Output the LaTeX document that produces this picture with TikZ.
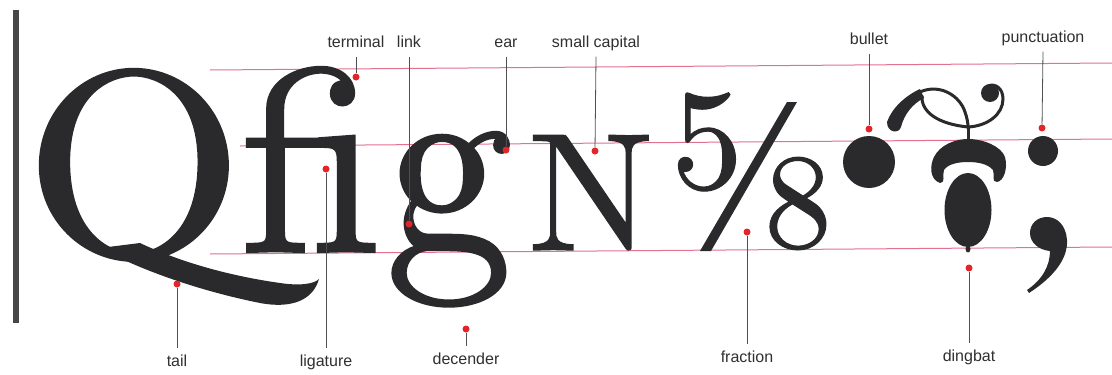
\documentclass[tikz,border=0pt]{standalone}
\usepackage{fontspec}
\setmainfont{Latin Modern Roman}
\newfontfamily\labelfont{Liberation Sans}
\newfontfamily\glyphfont{lmroman10-regular.otf}[FakeBold=0.8]
\definecolor{ink}{HTML}{2A2A2C}
\definecolor{guide}{HTML}{E2708F}
\definecolor{dotred}{HTML}{E3242B}
\definecolor{leadgray}{HTML}{505050}
\definecolor{labgray}{HTML}{303030}
\tikzset{
  guideline/.style={draw=guide, line width=1pt},
  leader/.style={draw=leadgray, line width=0.8pt},
  rdot/.style={circle, fill=dotred, minimum size=7pt, inner sep=0pt},
  lab/.style={font=\labelfont\fontsize{16}{18}\selectfont, text=labgray, anchor=base,
              text height=11.5pt, text depth=3.5pt, inner xsep=1pt, inner ysep=6pt},
  glyph/.style={text=ink, inner sep=0pt, anchor=base},
  blob/.style={circle, fill=ink, inner sep=0pt},
  thinstroke/.style={draw=ink, line width=3pt, line cap=round}
}
\begin{document}
\begin{tikzpicture}[x=1pt,y=-1pt]
\useasboundingbox (0,0) rectangle (1112,375);
\fill[white] (0,0) rectangle (1112,375);
% left bar
\fill[black!72] (13,10) rectangle (19,323);
% guide lines
\coordinate (a1) at (210,70);  \coordinate (a2) at (1112,63);
\coordinate (x1) at (240,146); \coordinate (x2) at (1112,139);
\coordinate (b1) at (210,254); \coordinate (b2) at (1112,247);
\draw[guideline] (a1) -- (a2);
\draw[guideline] (x1) -- (x2);
\draw[guideline] (b1) -- (b2);
% Q : bowl + tail
\fill[ink] (100,248) .. controls (140,270) and (200,291) .. (260,303)
  .. controls (292,309) and (313,300) .. (319,279)
  .. controls (314,284) and (300,286) .. (280,283)
  .. controls (230,276) and (180,262) .. (140,243) -- cycle;
\node[glyph, font=\glyphfont\fontsize{264}{264}\selectfont] (Q) at (134,255) {\scalebox{1.07}[1]{O}};
% fi ligature
\node[glyph, font=\glyphfont\fontsize{255}{255}\selectfont] (fi) at (311,252) {\scalebox{1}[1.03]{fi}};
% g
\node[glyph, font=\glyphfont\fontsize{255}{255}\selectfont] (g) at (449,252) {\scalebox{1}[1.04]{g}};
% small capital N
\node[glyph, font=\glyphfont\fontsize{168}{168}\selectfont] (N) at (591,250) {N};
% fraction 5/8
\node[glyph, font=\glyphfont\fontsize{143}{143}\selectfont] (five) at (707,188) {5};
\fill[ink] (700,251) -- (711,251) -- (797,102) -- (787,102) -- cycle;
\node[glyph, font=\glyphfont\fontsize{135}{135}\selectfont] (eight) at (798,247) {8};
% bullet
\node[blob, minimum size=52pt] (bullet) at (869,162) {};
% dingbat
\fill[ink] (968,210) ellipse [x radius=23.5, y radius=37];
\fill[ink] (968,249) ellipse [x radius=2.5, y radius=3.5];
\fill[ink] (940,183) .. controls (929,179) and (930,165) .. (934,157)
  .. controls (940,145) and (955,139) .. (968,139)
  .. controls (983,139) and (1001,146) .. (1005,157)
  .. controls (1008,168) and (1004,181) .. (997,182)
  .. controls (991,182) and (995,175) .. (993,170)
  .. controls (988,164) and (978,162) .. (968,162)
  .. controls (958,162) and (948,164) .. (944,170)
  .. controls (942,175) and (946,183) .. (940,183) -- cycle;
\draw[thinstroke] (968,141) -- (968,126);
\fill[ink] (887,122) .. controls (892,108) and (905,96) .. (920,89)
  -- (924,98) .. controls (912,104) and (904,115) .. (901,127)
  .. controls (899,134) and (887,133) .. (887,122) -- cycle;
\draw[thinstroke] (920,92) .. controls (940,83) and (960,96) .. (965,112) .. controls (967,118) and (968,122) .. (968,128);
\draw[thinstroke] (922,96) .. controls (921,112) and (938,124) .. (968,127)
  .. controls (988,126) and (1003,114) .. (1003,99)
  .. controls (1003,88) and (995,83) .. (988,86);
\node[blob, minimum size=18pt] (curl) at (990,93) {};
% punctuation ;
\node[blob, minimum size=30pt] (colondot) at (1043,151) {};
\fill[ink] (1029,293) .. controls (1055,276) and (1068,258) .. (1067,240)
  .. controls (1066,225) and (1057,217) .. (1047,217)
  .. controls (1037,217) and (1030,224) .. (1030,233)
  .. controls (1030,243) and (1039,250) .. (1050,251)
  .. controls (1050,266) and (1042,280) .. (1027,290) -- cycle;
% red dots
\node[rdot] (dTerm)  at (356,77)  {};
\node[rdot] (dLink)  at (409,224) {};
\node[rdot] (dEar)   at (506,150) {};
\node[rdot] (dSmall) at (595,151) {};
\node[rdot] (dBull)  at (869,129) {};
\node[rdot] (dPunct) at (1042,128) {};
\node[rdot] (dTail)  at (177,284) {};
\node[rdot] (dLig)   at (326,169) {};
\node[rdot] (dDesc)  at (466,329) {};
\node[rdot] (dFrac)  at (747,232) {};
\node[rdot] (dDing)  at (969,268) {};
% labels
\node[lab] (lTerm)  at (356,47) {terminal};
\node[lab] (lLink)  at (409,47) {link};
\node[lab] (lEar)   at (506,47) {ear};
\node[lab] (lSmall) at (596,47) {small capital};
\node[lab] (lBull)  at (869,44) {bullet};
\node[lab] (lPunct) at (1043,42) {punctuation};
\node[lab] (lTail)  at (177,366) {tail};
\node[lab] (lLig)   at (326,366) {ligature};
\node[lab] (lDesc)  at (466,364) {decender};
\node[lab] (lFrac)  at (747,362) {fraction};
\node[lab] (lDing)  at (969,361) {dingbat};
% leaders
\draw[leader] (lTerm.south)  -- (dTerm);
\draw[leader] (lLink.south)  -- (dLink);
\draw[leader] (lEar.south)   -- (dEar);
\draw[leader] (lSmall.south) -- (dSmall);
\draw[leader] (lBull.south)  -- (dBull);
\draw[leader] (lPunct.south) -- (dPunct);
\draw[leader] (dTail)  -- (lTail.north);
\draw[leader] (dLig)   -- (lLig.north);
\draw[leader] (dDesc)  -- (lDesc.north);
\draw[leader] (dFrac)  -- (lFrac.north);
\draw[leader] (dDing)  -- (lDing.north);
\end{tikzpicture}
\end{document}
